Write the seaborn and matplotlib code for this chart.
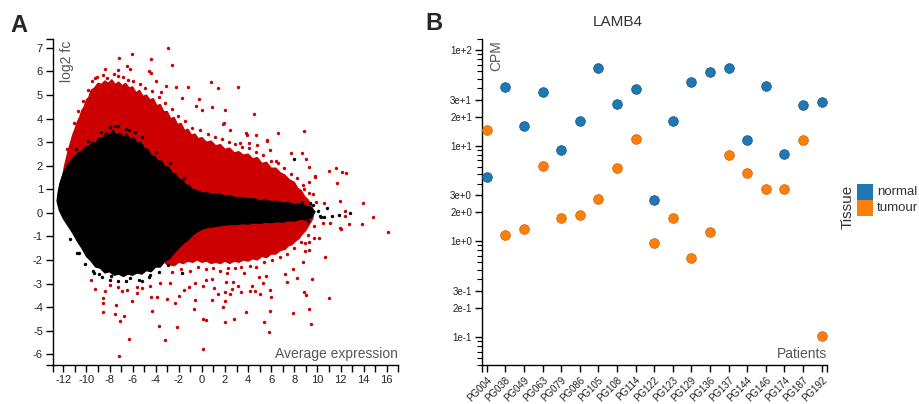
import numpy as np
import pandas as pd
import matplotlib
matplotlib.use("Agg")
import matplotlib.pyplot as plt
from matplotlib.ticker import FixedLocator, FixedFormatter, NullFormatter
from matplotlib.patches import Rectangle
import seaborn as sns

# ---------------- Panel A: MA plot ----------------
# Outline of the dense red (significant) cloud, in (average expression, log2 fc)
red_env_x = [-12.45, -12.35, -12.2, -12.05, -11.9, -11.75, -11.55, -11.4, -11.2, -11.0, -10.8,
             -10.6, -10.4, -10.2, -10.0, -9.8, -9.6, -9.3, -9.0, -8.7, -8.4, -8.1, -7.8, -7.5,
             -7.2, -6.9, -6.6, -6.3, -6.0, -5.7, -5.4, -5.1, -4.8, -4.5, -4.2, -3.9, -3.6,
             -3.3, -3.0, -2.7, -2.4, -2.1, -1.8, -1.5, -1.2, -0.9, -0.6, -0.3, 0.0, 0.4, 0.8,
             1.2, 1.6, 2.0, 2.4, 2.8, 3.2, 3.6, 4.0, 4.4, 4.8, 5.2, 5.6, 6.0, 6.4, 6.8, 7.2,
             7.6, 8.0, 8.3, 8.6, 8.9, 9.2, 9.5, 9.7,
             9.6, 9.3, 9.0, 8.7, 8.4, 8.1, 7.8, 7.5, 7.2, 6.8, 6.4, 6.0, 5.6, 5.2, 4.8, 4.4,
             4.0, 3.6, 3.2, 2.8, 2.4, 2.0, 1.6, 1.2, 0.8, 0.4, 0.0, -0.4, -0.8, -1.2, -1.6,
             -2.0, -2.4, -2.8, -3.0, -6.0, -10.0]
red_env_y = [0.4, 0.9, 1.3, 1.6, 2.0, 2.3, 2.7, 2.95, 3.3, 3.55, 3.85,
             4.05, 4.35, 4.5, 4.8, 4.9, 5.2, 5.3, 5.5, 5.45, 5.6, 5.5, 5.65, 5.45,
             5.55, 5.4, 5.5, 5.3, 5.35, 5.1, 5.2, 4.95, 5.0, 4.8, 4.85, 4.55, 4.6,
             4.3, 4.3, 4.0, 4.05, 3.75, 3.8, 3.5, 3.55, 3.3, 3.35, 3.15, 3.2, 3.0, 3.05,
             2.85, 2.9, 2.7, 2.75, 2.55, 2.6, 2.45, 2.5, 2.3, 2.35, 2.1, 2.15, 1.9, 1.9, 1.7, 1.6,
             1.4, 1.3, 1.05, 0.95, 0.7, 0.55, 0.3, 0.05,
             -0.25, -0.5, -0.75, -0.9, -1.1, -1.2, -1.35, -1.4, -1.55, -1.6, -1.75, -1.75, -1.9,
             -1.85, -2.0, -1.95, -2.05, -2.0, -2.1, -2.05, -2.15, -2.05, -2.15, -2.1, -2.15,
             -2.05, -2.1, -2.0, -2.1, -2.05, -2.15, -2.1, -2.25, -2.2, -2.2, -1.0, 0.0]

# Outline of the dense black (non-significant) cloud
black_env_x = [-12.55, -12.45, -12.3, -12.1, -11.9, -11.6, -11.3, -11.0, -10.7, -10.4, -10.1,
               -9.8, -9.5, -9.2, -8.9, -8.6, -8.3, -8.0, -7.7, -7.4, -7.1, -6.8, -6.5, -6.2,
               -5.9, -5.6, -5.3, -5.0, -4.7, -4.4, -4.1, -3.8, -3.5, -3.2, -2.9, -2.6, -2.3,
               -2.0, -1.7, -1.4, -1.1, -0.8, -0.4, 0.0, 0.5, 1.0, 1.5, 2.0, 2.5, 3.0, 3.5, 4.0,
               4.5, 5.0, 5.5, 6.0, 6.5, 7.0, 7.5, 8.0, 8.5, 9.0, 9.4, 9.8,
               9.5, 9.0, 8.5, 8.0, 7.5, 7.0, 6.5, 6.0, 5.5, 5.0, 4.5, 4.0, 3.5, 3.0, 2.5, 2.0,
               1.5, 1.0, 0.5, 0.0, -0.4, -0.8, -1.2, -1.6, -2.0, -2.4, -2.8, -3.2, -3.6, -4.0,
               -4.4, -4.8, -5.2, -5.6, -6.0, -6.4, -6.8, -7.2, -7.6, -8.0, -8.4, -8.8, -9.2,
               -9.6, -10.0, -10.4, -10.8, -11.2, -11.6, -12.0, -12.35]
black_env_y = [0.5, 0.9, 1.25, 1.55, 1.8, 2.05, 2.25, 2.4, 2.55, 2.6, 2.8,
               2.8, 3.0, 2.95, 3.2, 3.15, 3.4, 3.3, 3.5, 3.3, 3.4, 3.2, 3.35, 3.1,
               3.2, 2.95, 3.0, 2.75, 2.7, 2.45, 2.4, 2.2, 2.2, 1.95, 1.95, 1.7, 1.65,
               1.45, 1.4, 1.2, 1.15, 1.0, 0.95, 0.85, 0.85, 0.78, 0.8, 0.72, 0.72, 0.65, 0.66, 0.6,
               0.6, 0.52, 0.55, 0.48, 0.5, 0.42, 0.44, 0.36, 0.38, 0.3, 0.25, 0.05,
               -0.2, -0.3, -0.28, -0.35, -0.33, -0.4, -0.38, -0.42, -0.4, -0.45, -0.43, -0.48,
               -0.46, -0.5, -0.5, -0.53, -0.55, -0.6, -0.62, -0.7, -0.8, -0.95, -1.15, -1.3,
               -1.5, -1.7, -1.95, -2.05, -2.3, -2.3, -2.5, -2.45, -2.6, -2.55, -2.65, -2.6,
               -2.7, -2.6, -2.65, -2.5, -2.55, -2.35, -2.3, -2.05, -1.85, -1.5, -1.2, -0.85,
               -0.55, -0.25, 0.1]

# Significant genes scattered just outside the red cloud
red_fringe_x = [-11.7, -11.1, -10.75, -10.3, -9.9, -9.5, -9.05, -8.55, -8.25, -7.65, -7.3,
                -6.85, -6.4, -5.95, -5.35, -4.9, -4.35, -3.75, -3.2, -2.6, -2.05, -1.45,
                -0.85, -0.2, 0.55, 1.1, 1.75, 2.3, 2.85, 3.45, 4.05, 4.7, 5.3, 5.95, 6.55,
                7.1, 7.7, 8.2, 8.75, 9.3, 9.85,
                -2.6, -1.85, -1.05, -0.3, 0.35, 1.0, 1.55, 2.25, 2.9, 3.4, 4.15, 4.65, 5.4,
                6.1, 6.75, 7.35, 7.95, 8.55, 9.15, 9.7]
red_fringe_y = [2.7, 3.8, 4.3, 4.75, 5.2, 5.6, 5.75, 5.85, 5.7, 5.9, 5.8,
                5.75, 5.65, 5.6, 5.45, 5.3, 5.15, 4.9, 4.65, 4.4, 4.1, 3.9,
                3.6, 3.5, 3.35, 3.2, 3.15, 3.0, 2.9, 2.8, 2.75, 2.6, 2.45, 2.2, 2.1,
                1.9, 1.65, 1.5, 1.2, 0.85, 0.45,
                -2.5, -2.4, -2.45, -2.3, -2.4, -2.35, -2.45, -2.35, -2.35, -2.3, -2.25, -2.3, -2.1,
                -2.0, -1.85, -1.75, -1.5, -1.25, -0.95, -0.55]

# Non-significant genes scattered just outside the black cloud
black_fringe_x = [-11.4, -10.6, -10.1, -9.45, -8.65, -7.95, -6.6, -5.45, -4.55, -3.7, -2.9,
                  -10.9, -9.9, -8.7, -7.55, -6.35, -5.2, -3.95, -2.75, -1.55,
                  8.7, 9.2, 9.6, 10.05, 10.2]
black_fringe_y = [-1.1, -1.7, -2.15, -2.45, -2.7, -2.85, -2.9, -2.85, -2.7, -2.5, -2.2,
                  2.7, 3.05, 3.45, 3.7, 3.5, 3.2, 2.6, 2.1, 1.5,
                  0.45, -0.35, 0.35, 0.1, -0.15]

# Isolated significant genes far from the cloud
red_x = [-2.91, -6.03, -7.15, -4.41, -2.62, -8.39, 0.79, 3.10, 1.42, -1.23, -2.27, -9.26,
         -4.43, 4.54, 1.97, 0.85, -0.25, 6.61, 8.84, 11.64, 11.03, 12.10, 12.45, 11.67,
         9.79, 9.27, 8.67, 8.99, 7.74, 6.44, 5.61, 4.77, 3.88, 3.30, 2.43, 1.85, 1.91,
         5.66, 4.10, 3.79, 4.65, 5.87, -6.51, -7.24, -6.22, -4.58, -3.97, -3.08, -0.02,
         -0.54, -1.75, -3.57, -10.27, -10.84,
         -7.18, -6.31, -3.22, 0.10, -2.13, -3.69, -8.59, -7.52, -7.09, -6.72, 0.10, 0.38,
         -4.35, -8.54, -8.59, -7.46, -9.26, -8.36, -2.30, -0.68, -0.57, 2.00, 1.80, 2.03,
         2.00, 2.17, 0.90,
         5.84, 9.42, 5.35, 2.81, 3.82, 5.90, 7.91, 9.30, 6.01, 11.03, 9.01, 8.84, 5.00,
         4.57, 4.19, 3.41, 2.46, 2.63, 3.10, 4.34, 5.92, 9.51, 8.26, 7.34, 5.26, 2.11,
         2.69, 10.68, 8.73, 7.17, 7.86, 5.55, 4.92, 3.67,
         16.11, 14.79, 13.97, 13.89, 12.71, 12.37, 12.42, 11.98, 12.02, 10.60, 10.46,
         11.06, 11.96, 10.14, 9.73, 9.30, 8.95, 9.24, 8.92, 9.77, 9.30, 9.65, 8.87,
         -9.60, -7.24, -6.51, -6.08, -5.59, -4.43, -3.86, -3.00, -2.01, 1.07, 1.42, 0.85,
         -1.52, -1.09, -2.76, -3.63, -4.49, -5.21, -5.64, -6.94, -7.96, -0.60, 0.07, 0.36]
red_y = [7.00, 6.75, 6.55, 6.51, 6.28, 6.08, 5.53, 5.33, 5.30, 5.32, 5.32, 5.73,
         5.91, 4.18, 4.35, 4.49, 4.81, 3.38, 3.47, 1.91, 1.77, 1.73, 1.67, 1.27,
         1.53, 1.94, 2.53, 2.28, 2.52, 2.18, 3.07, 2.89, 3.30, 2.97, 3.52, 3.76, 3.81,
         3.04, 2.97, 3.37, 3.31, 2.67, 6.24, 6.05, 6.10, 6.00, 5.58, 5.38, 4.35,
         4.54, 4.85, 5.11, 4.36, 3.47,
         -6.05, -5.35, -5.41, -5.78, -4.85, -4.78, -4.21, -4.28, -4.58, -4.37, -4.49, -4.55,
         -4.15, -3.81, -3.60, -3.91, -3.22, -3.32, -3.84, -4.09, -3.70, -4.62, -3.98, -3.75,
         -3.35, -2.57, -2.80,
         -5.03, -4.73, -4.63, -4.48, -4.22, -4.17, -4.24, -4.08, -3.57, -3.59, -3.50, -3.35,
         -3.43, -3.33, -3.30, -3.35, -3.42, -3.23, -3.10, -3.09, -3.25, -2.81, -2.77, -2.95,
         -2.99, -2.94, -2.93, -1.85, -2.09, -2.60, -2.40, -2.67, -2.71, -2.57,
         -0.80, -0.17, 0.44, -0.48, -0.48, 0.06, -0.14, 0.50, -0.69, 0.40, -0.42,
         -0.42, -0.62, -1.06, -1.06, -1.25, -1.27, -1.58, -1.63, 1.56, 1.33, 0.82, 1.01,
         -2.85, -3.16, -3.25, -3.74, -3.39, -3.56, -3.56, -3.67, -3.52, -3.20, -3.45, -3.70,
         -3.27, -3.14, -2.99, -2.99, -3.11, -3.20, -3.14, -3.31, -3.06, -2.99, -3.11, -2.85]

# Isolated non-significant genes
black_x = [7.95, 12.80, 10.80, 11.26, 10.34, 10.57, 9.36, 11.90, -10.79, -9.37, -8.88,
           -7.84, -7.24, -6.20, -5.21, -4.49, -1.75, -8.0, -7.3, -6.6, -5.8]
black_y = [2.27, -0.02, 0.22, -0.14, -0.19, -0.18, 0.40, -0.10, -1.72, -2.54, -2.61,
           -2.68, -2.88, -2.74, -2.88, -2.64, -2.54, 3.65, 3.7, 3.55, 3.45]

# ---------------- Panel B: LAMB4 expression ----------------
patients = ["PG004", "PG038", "PG049", "PG063", "PG079", "PG086", "PG105", "PG108",
            "PG114", "PG122", "PG123", "PG129", "PG136", "PG137", "PG144", "PG146",
            "PG174", "PG187", "PG192"]
normal_cpm = [4.65, 41.2, 15.9, 36.1, 8.98, 18.1, 65.2, 27.0, 38.7, 2.69, 18.2, 46.2,
              58.4, 64.8, 11.4, 41.7, 8.09, 26.5, 28.5]
tumour_cpm = [14.5, 1.16, 1.34, 6.11, 1.74, 1.88, 2.74, 5.78, 11.7, 0.96, 1.74, 0.67,
              1.25, 7.91, 5.16, 3.51, 3.53, 11.35, 0.102]
tissues = ["normal", "tumour"]
cpm_ticks = [0.1, 0.2, 0.3, 1, 2, 3, 10, 20, 30, 100]
cpm_tick_labels = ["1e-1", "2e-1", "3e-1", "1e+0", "2e+0", "3e+0", "1e+1", "2e+1", "3e+1", "1e+2"]

# ---------------- Style ----------------
sns.set_theme(style="white")
plt.rcParams["font.family"] = ["Liberation Sans", "DejaVu Sans"]
plt.rcParams["axes.unicode_minus"] = False

RED = "#cc0000"
BLUE = "#1f77b4"
ORANGE = "#ff7f0e"
LABEL_GREY = "#555555"

W, H = 919, 404
fig = plt.figure(figsize=(W / 100, H / 100), dpi=100)


def box(left, top, right, bottom):
    return [left / W, 1 - bottom / H, (right - left) / W, (bottom - top) / H]


axA = fig.add_axes(box(52.7, 39.3, 398.3, 365))
axB = fig.add_axes(box(481.7, 39.0, 826.7, 365))


def d3_axes(ax):
    for side in ("top", "right"):
        ax.spines[side].set_visible(False)
    for side in ("left", "bottom"):
        ax.spines[side].set_color("black")
        ax.spines[side].set_linewidth(1.0)
    ax.tick_params(which="both", direction="out", length=5, width=1, color="black",
                   left=True, bottom=True, pad=2)
    ax.grid(False)


# Panel A
axA.fill(red_env_x, red_env_y, color=RED, lw=0.8, ec=RED, zorder=1)
axA.fill(black_env_x, black_env_y, color="black", lw=0.8, ec="black", zorder=2)
pts_red = pd.DataFrame({"A": red_x + red_fringe_x, "M": red_y + red_fringe_y})
pts_black = pd.DataFrame({"A": black_x + black_fringe_x, "M": black_y + black_fringe_y})
sns.scatterplot(data=pts_red, x="A", y="M", color=RED, s=6, linewidth=0, ax=axA, zorder=3)
sns.scatterplot(data=pts_black, x="A", y="M", color="black", s=6, linewidth=0, ax=axA, zorder=3)

xa0, xa1 = -12.92, 17.0
ya0, ya1 = -6.45, 7.36
axA.set_xlim(xa0, xa1)
axA.set_ylim(ya0, ya1)
d3_axes(axA)
xt = list(range(-12, 17))
axA.xaxis.set_major_locator(FixedLocator(xt))
axA.xaxis.set_major_formatter(FixedFormatter([str(v) if v % 2 == 0 else "" for v in xt]))
axA.xaxis.set_minor_locator(FixedLocator([xa0, xa1]))
yt = list(range(-6, 8))
axA.yaxis.set_major_locator(FixedLocator(yt))
axA.yaxis.set_major_formatter(FixedFormatter([str(v) for v in yt]))
axA.yaxis.set_minor_locator(FixedLocator([ya0, ya1]))
axA.tick_params(axis="both", which="major", labelsize=8, labelcolor="#222222")
axA.set_xlabel("")
axA.set_ylabel("")
axA.text(0.022, 0.995, "log2 fc", transform=axA.transAxes, rotation=90, ha="left", va="top",
         fontsize=10, color=LABEL_GREY)
axA.text(1.0, 0.012, "Average expression", transform=axA.transAxes, ha="right", va="bottom",
         fontsize=10, color=LABEL_GREY)

# Panel B
long = pd.DataFrame({
    "patient": patients * 2,
    "cpm": normal_cpm + tumour_cpm,
    "tissue": ["normal"] * len(patients) + ["tumour"] * len(patients),
})
palette = {"normal": BLUE, "tumour": ORANGE}
edges = {"normal": "#195f90", "tumour": "#d0680c"}
for t in tissues:
    sub = long[long["tissue"] == t]
    sns.scatterplot(data=sub, x="patient", y="cpm", color=palette[t], s=48,
                    edgecolor=edges[t], linewidth=0.6, ax=axB, zorder=3, legend=False)
axB.set_yscale("log")
yb0, yb1 = 0.0506, 130
xb0, xb1 = -0.27, len(patients) - 1 + 0.27
axB.set_ylim(yb0, yb1)
axB.set_xlim(xb0, xb1)
d3_axes(axB)
axB.yaxis.set_major_locator(FixedLocator(cpm_ticks))
axB.yaxis.set_major_formatter(FixedFormatter(cpm_tick_labels))
minor_vals = [v * m for v in (0.01, 0.1, 1, 10) for m in range(4, 10)] + [yb0, yb1]
minor_vals = [v for v in minor_vals if yb0 <= v <= yb1]
axB.yaxis.set_minor_locator(FixedLocator(minor_vals))
axB.yaxis.set_minor_formatter(NullFormatter())
axB.tick_params(axis="y", which="minor", length=3.5, width=0.8)
axB.xaxis.set_major_locator(FixedLocator(list(range(len(patients)))))
axB.xaxis.set_major_formatter(FixedFormatter(patients))
axB.xaxis.set_minor_locator(FixedLocator([xb0, xb1]))
axB.tick_params(axis="x", which="minor", length=5, width=1)
axB.tick_params(axis="both", which="major", labelsize=7, labelcolor="#222222")
for lab in axB.get_xticklabels():
    lab.set_rotation(45)
    lab.set_ha("right")
    lab.set_rotation_mode("anchor")
axB.set_xlabel("")
axB.set_ylabel("")
axB.text(0.022, 0.995, "CPM", transform=axB.transAxes, rotation=90, ha="left", va="top",
         fontsize=10, color=LABEL_GREY)
axB.text(1.0, 0.012, "Patients", transform=axB.transAxes, ha="right", va="bottom",
         fontsize=10, color=LABEL_GREY)
fig.text(618 / W, 1 - 22 / H, "LAMB4", ha="center", va="center", fontsize=11, color="#333333")

# Panel letters
fig.text(10 / W, 1 - 25 / H, "A", ha="left", va="center", fontsize=17, fontweight="bold")
fig.text(425 / W, 1 - 24 / H, "B", ha="left", va="center", fontsize=17, fontweight="bold")

# Tissue legend
for i, t in enumerate(tissues):
    fig.patches.append(Rectangle((857 / W, 1 - (200 + 16 * i) / H), 16 / W, 16 / H,
                                 transform=fig.transFigure, color=palette[t], lw=0))
    fig.text(877 / W, 1 - (192 + 16 * i) / H, t, ha="left", va="center", fontsize=9.5,
             color="#333333")
fig.text(848 / W, 1 - 207 / H, "Tissue", rotation=90, ha="center", va="center",
         fontsize=11, color="#333333")

fig.savefig("out.png", dpi=100)
